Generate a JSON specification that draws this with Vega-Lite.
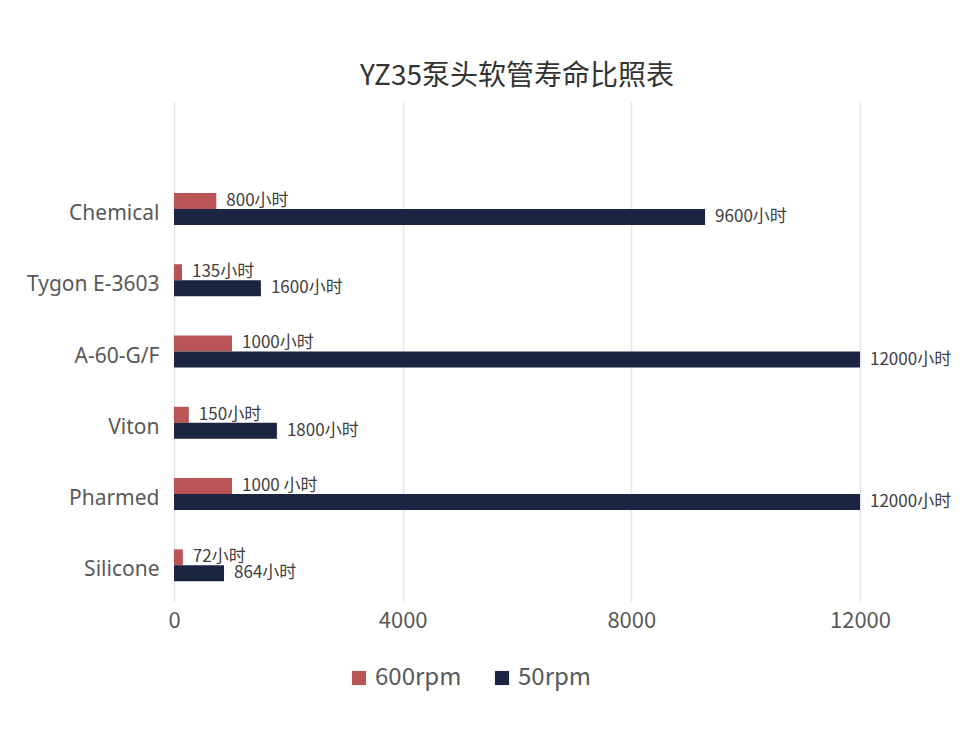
{
  "$schema": "https://vega.github.io/schema/vega-lite/v6.json",
  "autosize": "none",
  "width": 686,
  "height": 499,
  "padding": {"left": 174, "top": 102, "right": 120, "bottom": 130},
  "background": "white",
  "title": {
    "text": "YZ35泵头软管寿命比照表",
    "font": "Noto Sans CJK SC",
    "fontSize": 28,
    "fontWeight": "normal",
    "color": "#333333",
    "anchor": "middle",
    "offset": 11
  },
  "config": {
    "view": {"stroke": null},
    "font": "Noto Sans CJK SC"
  },
  "data": {
    "values": [
      {"tube": "Chemical", "speed": "600rpm", "hours": 740, "label": "800小时"},
      {"tube": "Chemical", "speed": "50rpm", "hours": 9290, "label": "9600小时"},
      {"tube": "Tygon E-3603", "speed": "600rpm", "hours": 140, "label": "135小时"},
      {"tube": "Tygon E-3603", "speed": "50rpm", "hours": 1520, "label": "1600小时"},
      {"tube": "A-60-G/F", "speed": "600rpm", "hours": 1015, "label": "1000小时"},
      {"tube": "A-60-G/F", "speed": "50rpm", "hours": 12000, "label": "12000小时"},
      {"tube": "Viton", "speed": "600rpm", "hours": 260, "label": "150小时"},
      {"tube": "Viton", "speed": "50rpm", "hours": 1800, "label": "1800小时"},
      {"tube": "Pharmed", "speed": "600rpm", "hours": 1015, "label": "1000 小时"},
      {"tube": "Pharmed", "speed": "50rpm", "hours": 12000, "label": "12000小时"},
      {"tube": "Silicone", "speed": "600rpm", "hours": 155, "label": "72小时"},
      {"tube": "Silicone", "speed": "50rpm", "hours": 875, "label": "864小时"}
    ]
  },
  "encoding": {
    "y": {
      "field": "tube",
      "type": "nominal",
      "title": null,
      "scale": {
        "domain": [" ", "Chemical", "Tygon E-3603", "A-60-G/F", "Viton", "Pharmed", "Silicone"],
        "paddingInner": 0.551,
        "paddingOuter": 0.2755
      },
      "axis": {
        "domain": false,
        "ticks": false,
        "labelFont": "Noto Sans",
        "labelFontSize": 21,
        "labelColor": "#595959",
        "labelPadding": 15,
        "labelOffset": 5
      }
    },
    "yOffset": {
      "field": "speed",
      "type": "nominal",
      "sort": ["600rpm", "50rpm"],
      "scale": {"paddingInner": 0, "paddingOuter": 0}
    },
    "x": {
      "field": "hours",
      "type": "quantitative",
      "title": null,
      "scale": {"domain": [0, 12000], "nice": false},
      "axis": {
        "values": [0, 4000, 8000, 12000],
        "format": "d",
        "domain": false,
        "ticks": false,
        "grid": true,
        "gridColor": "#E6E6E6",
        "gridWidth": 1.5,
        "labelFontSize": 22,
        "labelColor": "#595959",
        "labelPadding": 9,
        "labelFlush": false
      }
    }
  },
  "layer": [
    {
      "mark": {"type": "bar"},
      "encoding": {
        "color": {
          "field": "speed",
          "type": "nominal",
          "sort": ["600rpm", "50rpm"],
          "scale": {"domain": ["600rpm", "50rpm"], "range": ["#BA5456", "#1B2542"]},
          "legend": {
            "title": null,
            "orient": "none",
            "direction": "horizontal",
            "legendX": 173,
            "legendY": 564,
            "symbolType": "square",
            "symbolSize": 200,
            "symbolStrokeWidth": 0,
            "labelFontSize": 24,
            "labelColor": "#595959",
            "labelOffset": 4,
            "columnPadding": 28,
            "padding": 0
          }
        }
      }
    },
    {
      "mark": {
        "type": "text",
        "align": "left",
        "baseline": "middle",
        "dx": 10,
        "fontSize": 17,
        "color": "#404040"
      },
      "encoding": {
        "text": {"field": "label"}
      }
    }
  ]
}
